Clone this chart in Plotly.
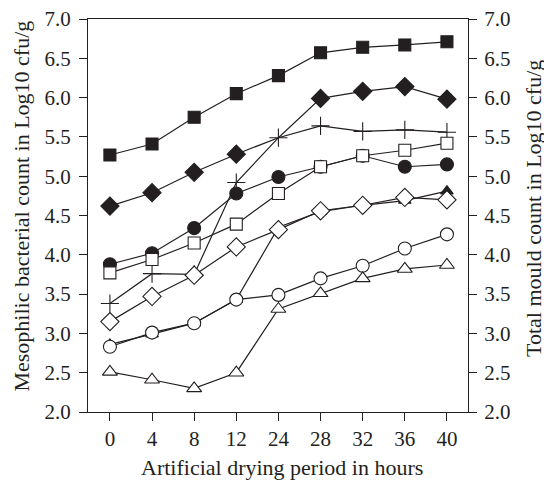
import plotly.graph_objects as go

hours = ["0", "4", "8", "12", "24", "28", "32", "36", "40"]
filled_square = [5.27, 5.41, 5.75, 6.05, 6.28, 6.57, 6.64, 6.67, 6.71]
filled_diamond = [4.62, 4.79, 5.05, 5.28, 5.49, 5.99, 6.08, 6.14, 5.98]
plus = [3.38, 3.76, 3.75, 4.92, 5.49, 5.64, 5.57, 5.59, 5.56]
filled_circle = [3.88, 4.02, 4.34, 4.78, 4.99, 5.12, 5.26, 5.12, 5.15]
open_square = [3.77, 3.94, 4.15, 4.39, 4.78, 5.12, 5.26, 5.33, 5.42]
open_diamond = [3.15, 3.47, 3.74, 4.10, 4.32, 4.56, 4.63, 4.73, 4.70]
filled_triangle = [2.86, 2.99, 3.13, 3.43, 4.35, 4.55, 4.63, 4.69, 4.81]
open_circle = [2.83, 3.01, 3.13, 3.43, 3.49, 3.70, 3.86, 4.08, 4.26]
open_triangle = [2.51, 2.41, 2.30, 2.50, 3.31, 3.51, 3.70, 3.82, 3.87]

y_ticks = [2.0, 2.5, 3.0, 3.5, 4.0, 4.5, 5.0, 5.5, 6.0, 6.5, 7.0]
y_labels = ["%.1f" % v for v in y_ticks]

FONT = "Liberation Serif"
INK = "#231f20"
fig = go.Figure()

def add(vals, symbol, size, fill, yaxis="y"):
    fig.add_trace(go.Scatter(
        x=hours, y=vals, mode="lines+markers", yaxis=yaxis,
        line=dict(color=INK, width=1.2),
        marker=dict(symbol=symbol, size=size, color=fill, opacity=1,
                    line=dict(color=INK, width=1.1)),
        showlegend=False, cliponaxis=False))

add(filled_triangle, "triangle-up", 11, INK)
add(filled_circle, "circle", 13, INK)
add(filled_diamond, "diamond", [14, 14, 14, 14, 0, 14, 14, 14, 14], INK)
add(filled_square, "square", 12, INK)
add(plus, "cross-thin", 13, INK)
add(open_diamond, "diamond", 14, "white")
add(open_square, "square", 12, "white")
add(open_circle, "circle", 13, "white")
add(open_triangle, "triangle-up", 13, "white", yaxis="y2")

axis_common = dict(showline=True, linecolor=INK, linewidth=1.2,
                   ticks="outside", ticklen=8, tickwidth=1.2, tickcolor=INK,
                   showgrid=False, zeroline=False, automargin=False,
                   ticklabeloverflow="allow",
                   tickfont=dict(family=FONT, size=21, color=INK))

TITLE_FONT = dict(family=FONT, size=22, color=INK)

# The page body has an 8 px default margin, so the figure is 8 px smaller
# on each side and the margins are shifted to keep the plot area in place.
fig.update_layout(
    width=544, height=476,
    margin=dict(l=80, r=84, t=11, b=72),
    paper_bgcolor="white", plot_bgcolor="white",
    xaxis=dict(type="category", range=[-0.52, 8.5], mirror=True, **axis_common),
    yaxis=dict(range=[2.0, 7.0], tickvals=y_ticks, ticktext=y_labels,
               ticklabelstandoff=4, **axis_common),
    yaxis2=dict(range=[2.0, 7.0], tickvals=y_ticks, ticktext=y_labels, overlaying="y",
                side="right", anchor="x", ticklabelstandoff=3, **axis_common),
    annotations=[
        dict(text="Artificial drying period in hours", xref="paper", yref="paper",
             x=0.51, y=-0.14, yanchor="middle", showarrow=False, font=TITLE_FONT),
        dict(text="Mesophilic bacterial count in Log10 cfu/g", xref="paper", yref="paper",
             x=-0.174, y=0.525, xanchor="center", yanchor="middle", textangle=-90,
             showarrow=False, font=TITLE_FONT),
        dict(text="Total mould count in Log10 cfu/g", xref="paper", yref="paper",
             x=1.174, y=0.517, xanchor="center", yanchor="middle", textangle=-90,
             showarrow=False, font=TITLE_FONT),
    ],
)

fig.write_html("out.html")
